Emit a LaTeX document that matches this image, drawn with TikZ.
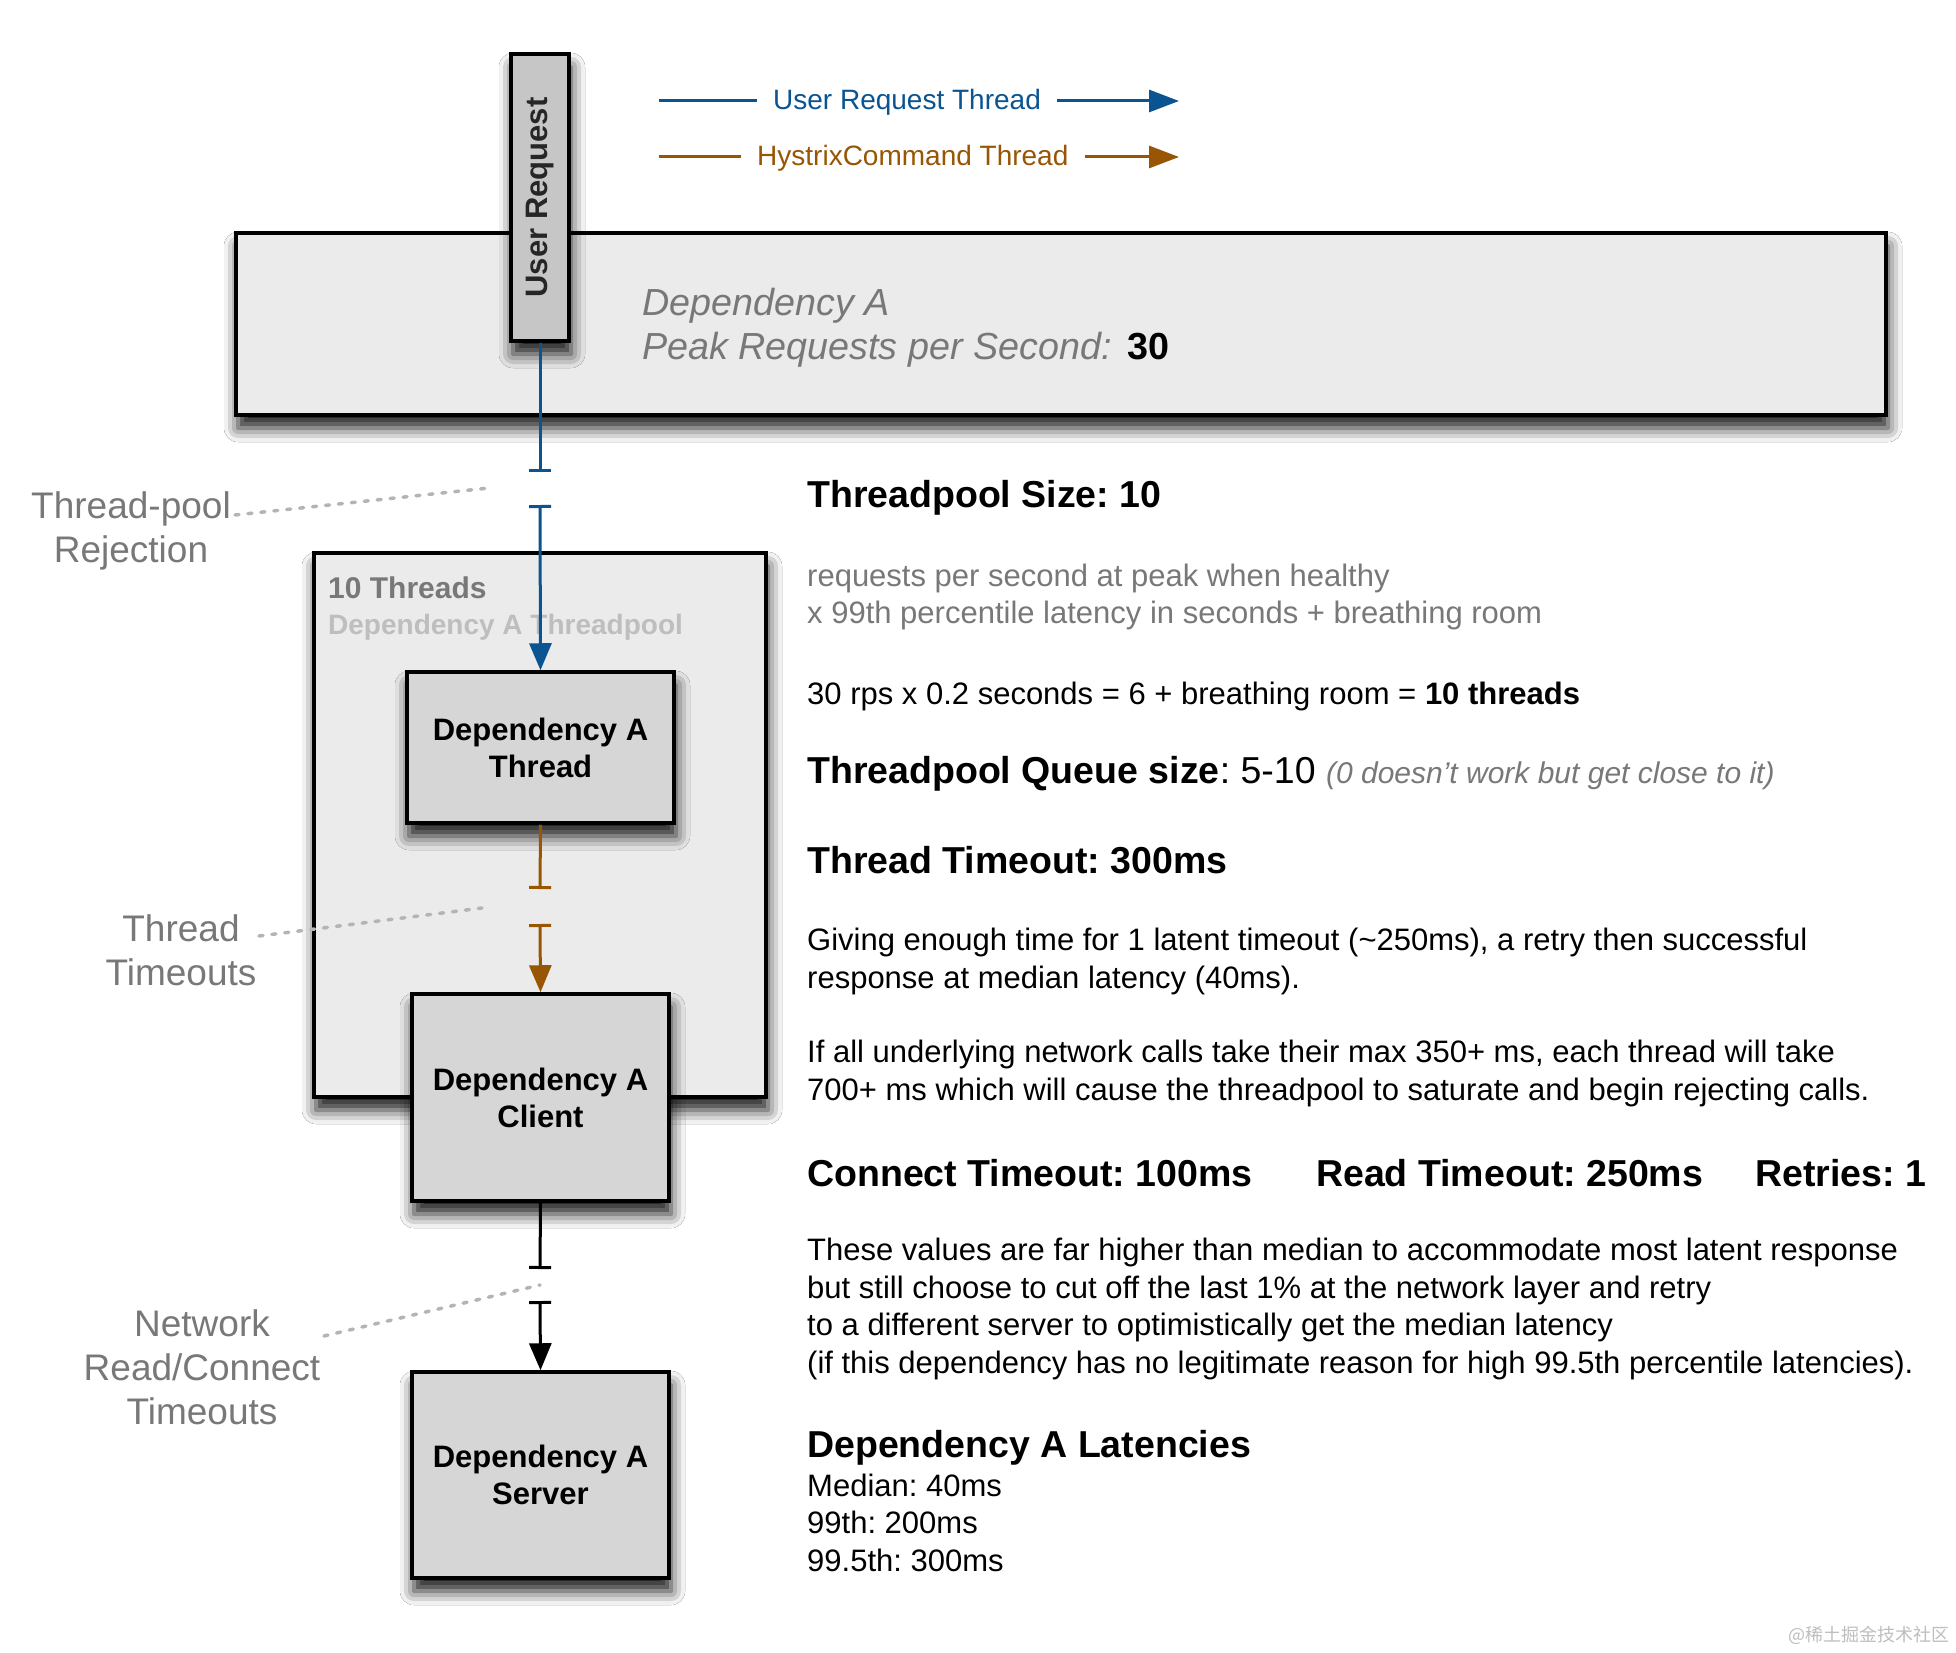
\documentclass[tikz,border=0pt]{standalone}
\usepackage{fontspec}
\setmainfont{Liberation Sans}
\newfontfamily\cjkfont{Noto Sans CJK SC}
\usepackage{graphicx}
\usepackage{xcolor}
\usetikzlibrary{arrows.meta, shadows.blur, positioning}
\frenchspacing

\definecolor{reqblue}{RGB}{10,84,146}
\definecolor{hysorange}{RGB}{152,86,4}
\definecolor{labelgray}{RGB}{120,120,120}
\definecolor{poolgray}{RGB}{190,190,190}
\definecolor{hintgray}{RGB}{180,180,180}
\definecolor{boxfill}{RGB}{214,214,214}
\definecolor{urfill}{RGB}{198,198,198}
\definecolor{panelfill}{RGB}{235,235,235}

\newcommand{\fsz}[2]{\fontsize{#1}{#2}\selectfont}

\begin{document}
\begin{tikzpicture}[x = 1pt, y = -1pt,
		shadowed/.style = {blur shadow = {shadow xshift = 2pt, shadow yshift = -13pt, shadow blur radius = 14pt, shadow opacity = 90}},
		box/.style = {draw, line width = 3.5pt, fill = boxfill, shadowed, inner sep = 0pt, align = center, font = \bfseries\fsz{31}{37}},
		panel/.style = {draw, line width = 3.5pt, fill = panelfill, shadowed, inner sep = 0pt},
		wire/.style = {line width = 3pt},
		hint/.style = {draw = hintgray, line width = 3.5pt, line cap = round, dash pattern = on 4pt off 9pt},
		side/.style = {text = labelgray, align = center, font = \fsz{37}{44}},
		note/.style = {anchor = base west, inner sep = 0pt, align = left, font = \fsz{31}{37.4}},
		head/.style = {note, font = \bfseries\fsz{37.5}{44}},
		key/.style = {inner xsep = 16pt, inner ysep = 0pt, font = \fsz{28}{34}},
		bar/.tip = {Bar[width = 22pt]},
		tri/.tip = {Triangle[length = 27pt, width = 22pt]},
	]
			\useasboundingbox [fill = white] (0,0) rectangle (1956,1653);
			
			% legend
			\coordinate (userkeyA) at (659,101);
			\coordinate (userkeyB) at (1179,101);
			\coordinate (hyskeyA) at (659,157);
			\coordinate (hyskeyB) at (1179,157);
			
			\node [key, text = reqblue, anchor = west] (userkey) at (757,102) {User Request Thread};
			\node [key, text = hysorange, anchor = west] (hyskey) at (741,158) {HystrixCommand Thread};
			
			\draw [wire, reqblue] (userkeyA) -- (userkey.west |- userkeyA);
			\draw [wire, reqblue, -{Triangle[length = 30pt, width = 22pt]}] (userkey.east |- userkeyB) -- (userkeyB);
			\draw [wire, hysorange] (hyskeyA) -- (hyskey.west |- hyskeyA);
			\draw [wire, hysorange, -{Triangle[length = 30pt, width = 22pt]}] (hyskey.east |- hyskeyB) -- (hyskeyB);
			
			% dependency and user request
			\node [panel, minimum width = 1650pt, minimum height = 182pt] (depA) at (1061,324) {};
			\node [note, text = labelgray, font = \itshape\fsz{37.7}{44}] (depAtext) at (642,359) {Dependency A\\Peak Requests per Second:\hspace{16pt}\textup{\bfseries\color{black}30}};
			
			\node [box, fill = urfill, minimum width = 58pt, minimum height = 287pt, text = black!85] (user) at (540,197.5) {\rotatebox{90}{User Request}};
			
			% threadpool
			\node [panel, minimum width = 452pt, minimum height = 544pt] (pool) at (540,825) {};
			\node [anchor = base west, inner sep = 0pt, text = labelgray, font = \bfseries\fsz{30}{36}] (poolsize) at (328,598) {10 Threads};
			\node [anchor = base west, inner sep = 0pt, text = poolgray, font = \bfseries\fsz{28}{34}] (poolname) at (328,634) {Dependency A Threadpool};
			
			\node [box, minimum width = 267pt, minimum height = 151pt] (thread) at (540.5,747.5) {Dependency A\\Thread};
			\node [box, minimum width = 257pt, minimum height = 207pt] (client) at (540.5,1097.5) {Dependency A\\Client};
			\node [box, minimum width = 257pt, minimum height = 206pt] (server) at (540.5,1475) {Dependency A\\Server};
			
			% connectors
			\coordinate (rejtop) at (540,472);
			\coordinate (rejbot) at (540,505);
			\coordinate (totop) at (540,889);
			\coordinate (tobot) at (540,924);
			\coordinate (nettop) at (540,1269);
			\coordinate (netbot) at (540,1301);
			
			\begin{scope}[wire]
				\draw [reqblue, -bar] (user.south) -- (rejtop);
				\draw [reqblue, bar-tri] (rejbot) -- (thread.north);
				\draw [hysorange, -bar] (thread.south) -- (totop);
				\draw [hysorange, bar-tri] (tobot) -- (client.north);
				\draw [-bar] (client.south) -- (nettop);
				\draw [bar-tri] (netbot) -- (server.north);
			\end{scope}
			
			% side labels
			\node [side] (rejlabel) at (131,531) {Thread-pool\\Rejection};
			\node [side] (timeoutlabel) at (181,950) {Thread\\Timeouts};
			\node [side] (netlabel) at (202,1367) {Network\\Read/Connect\\Timeouts};
			
			\coordinate (rejhintA) at (235,515);
			\coordinate (rejhintB) at (489,488);
			\coordinate (timeouthintA) at (259,936);
			\coordinate (timeouthintB) at (482,908);
			\coordinate (nethintA) at (324,1336);
			\coordinate (nethintB) at (540,1285);
			
			\draw [hint] (rejhintA) -- (rejhintB);
			\draw [hint] (timeouthintA) -- (timeouthintB);
			\draw [hint] (nethintA) -- (nethintB);
			
			% notes
			\node [head] (sizehead) at (807,507) {Threadpool Size: 10};
			\node [note, text = labelgray] (sizerule) at (807,623.5) {requests per second at peak when healthy\\x 99th percentile latency in seconds + breathing room};
			\node [note] (sizecalc) at (807,704.5) {30 rps x 0.2 seconds = 6 + breathing room = \textbf{10 threads}};
			\node [head] (queuehead) at (807,783) {Threadpool Queue size\textmd{: 5-10} {\mdseries\itshape\color{labelgray}\fsz{30}{36}(0 doesn't work but get close to it)}};
			\node [head] (timeouthead) at (807,873) {Thread Timeout: 300ms};
			\node [note] (timeoutwhy) at (807,988) {Giving enough time for 1 latent timeout (\textasciitilde250ms), a retry then successful\\response at median latency (40ms).};
			\node [note] (saturate) at (807,1100) {If all underlying network calls take their max 350+ ms, each thread will take\\700+ ms which will cause the threadpool to saturate and begin rejecting calls.};
			\node [head] (connhead) at (807,1186) {Connect Timeout: 100ms};
			\node [head] (readhead) at (1316,1186) {Read Timeout: 250ms};
			\node [head] (retryhead) at (1755,1186) {Retries: 1};
			\node [note] (netwhy) at (807,1373) {These values are far higher than median to accommodate most latent response\\but still choose to cut off the last 1\% at the network layer and retry\\to a different server to optimistically get the median latency\\(if this dependency has no legitimate reason for high 99.5th percentile latencies).};
			\node [head] (lathead) at (807,1457) {Dependency A Latencies};
			\node [note] (latlist) at (807,1571) {Median: 40ms\\99th: 200ms\\99.5th: 300ms};
			
			\node [anchor = base east, inner sep = 0pt, text = poolgray, font = \cjkfont\fsz{18}{20}] (mark) at (1950,1641) {@稀土掘金技术社区};
		\end{tikzpicture}
\end{document}
